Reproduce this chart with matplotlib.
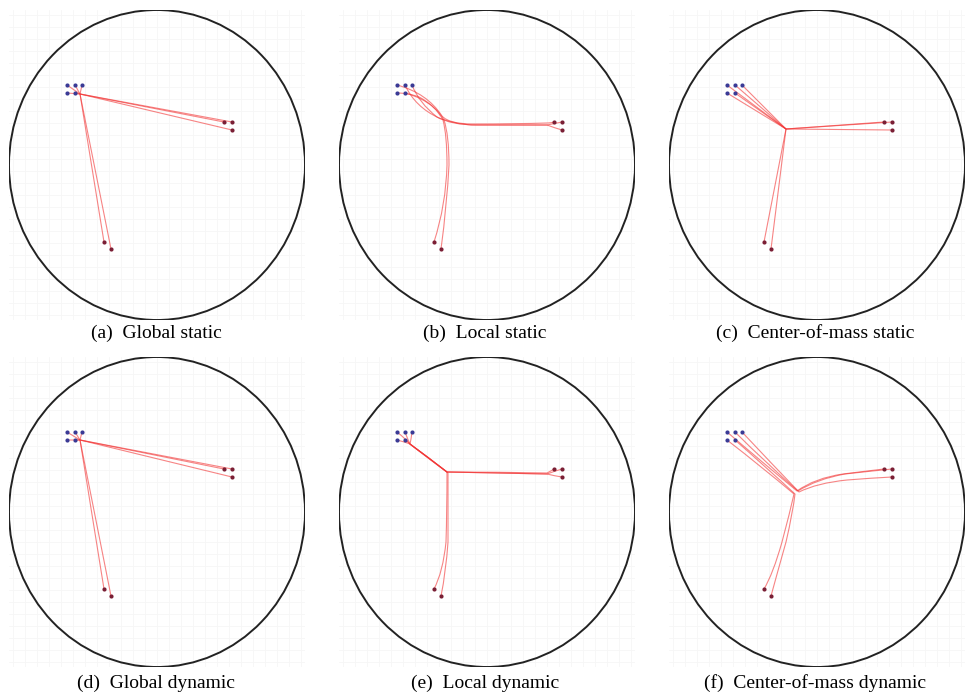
import numpy as np
import matplotlib
matplotlib.use("Agg")
import matplotlib.pyplot as plt
from matplotlib.path import Path
from matplotlib.patches import PathPatch, Ellipse

# arena coordinates: circle spans x -148..148, y -155..155
start_x = [-90, -82, -75, -90, -82]
start_y = [80, 80, 80, 72, 72]
goal_x = [67, 75, 75, -53, -46]
goal_y = [43, 43, 35, -77, -84]

captions = ["(a)  Global static", "(b)  Local static", "(c)  Center-of-mass static",
            "(d)  Global dynamic", "(e)  Local dynamic", "(f)  Center-of-mass dynamic"]

# straight paths: start -> hub -> goal
hub_a = (-77, 71)
hub_c = (-31, 36)
hub_d = (-77, 72)

# curved paths: quadratic bezier chains (point, control, point, ...)
paths_b = [
    [(-90, 80), (-60, 72), (-45, 49), (-38, 41), (-15, 41), (30, 41), (60, 42), (64, 42), (67, 43)],
    [(-82, 80), (-72, 58), (-48, 47), (-32, 41), (-15, 40), (30, 40), (60, 40), (70, 42), (75, 43)],
    [(-75, 80), (-68, 62), (-50, 48), (-36, 40), (-10, 40), (30, 40), (60, 40), (68, 37), (75, 35)],
    [(-90, 72), (-78, 72), (-68, 68), (-52, 60), (-44, 45), (-40, 30), (-40, 0), (-41, -40), (-53, -77)],
    [(-82, 72), (-74, 70), (-66, 66), (-50, 58), (-43, 45), (-38, 30), (-38, 0), (-40, -40), (-46, -84)],
]
paths_e = [
    [(-90, 80), (-80, 72), (-77, 68), (-58, 54), (-40, 40), (10, 40), (60, 39), (64, 41), (67, 43)],
    [(-82, 80), (-79, 72), (-77, 68), (-58, 54), (-40, 40), (10, 39), (60, 38), (68, 41), (75, 43)],
    [(-75, 80), (-76, 72), (-77, 68), (-58, 54), (-40, 40), (10, 39), (60, 38), (68, 36), (75, 35)],
    [(-90, 72), (-82, 70), (-77, 68), (-58, 54), (-40, 40), (-40, 0), (-41, -30), (-44, -60), (-53, -77)],
    [(-82, 72), (-79, 70), (-76, 67), (-58, 53), (-39, 39), (-39, 0), (-39, -30), (-41, -60), (-46, -84)],
]
paths_f = [
    [(-90, 80), (-55, 50), (-20, 21), (-2, 34), (26, 38), (50, 41), (67, 43)],
    [(-82, 80), (-50, 48), (-19, 21), (0, 33), (28, 38), (55, 41), (75, 43)],
    [(-75, 80), (-45, 48), (-18, 20), (0, 29), (30, 32), (55, 34), (75, 35)],
    [(-90, 72), (-55, 45), (-23, 18), (-27, 0), (-35, -30), (-44, -62), (-53, -77)],
    [(-82, 72), (-50, 44), (-22, 18), (-24, 0), (-31, -30), (-40, -62), (-46, -84)],
]

LINE = (0.95, 0.2, 0.2, 0.6)


def straight(ax, hub):
    for i in range(5):
        xs = [start_x[i], hub[0], goal_x[i]]
        ys = [start_y[i], hub[1], goal_y[i]]
        ax.plot(xs, ys, color=LINE, lw=0.8, zorder=2)


def curved(ax, paths):
    for p in paths:
        codes = [Path.MOVETO] + [Path.CURVE3] * (len(p) - 1)
        ax.add_patch(PathPatch(Path(p, codes), fill=False, ec=LINE, lw=0.8, zorder=2))


fig = plt.figure(figsize=(9.72, 6.98), dpi=100)
lefts = [9, 339, 669]
tops = [10, 357]
W, H = 296, 310
axes = []
for r in range(2):
    for c in range(3):
        ax = fig.add_axes([lefts[c] / 972, 1 - (tops[r] + H) / 698, W / 972, H / 698])
        ax.set_xlim(-148, 148)
        ax.set_ylim(-155, 155)
        ax.set_xticks(np.arange(-144, 149, 12))
        ax.set_yticks(np.arange(-150, 155, 12))
        ax.grid(color='#f6f6f6', lw=0.6)
        ax.tick_params(length=0, labelbottom=False, labelleft=False)
        for s in ax.spines.values():
            s.set_visible(False)
        ax.add_patch(Ellipse((0, 0), 296, 310, fill=False, ec='#222222', lw=1.4, zorder=3))
        axes.append(ax)

straight(axes[0], hub_a)
curved(axes[1], paths_b)
straight(axes[2], hub_c)
straight(axes[3], hub_d)
curved(axes[4], paths_e)
curved(axes[5], paths_f)

for ax in axes:
    ax.scatter(start_x, start_y, s=9, color='#3a3a95', zorder=4, lw=0)
    ax.scatter(goal_x, goal_y, s=9, color='#7a1f35', zorder=4, lw=0)

cap_x = [156, 485, 815]
cap_y = [333, 683]
for k, txt in enumerate(captions):
    fig.text(cap_x[k % 3] / 972, 1 - cap_y[k // 3] / 698, txt, ha='center', va='center',
             family='Liberation Serif', fontsize=14)

fig.savefig("out.png", dpi=100)
